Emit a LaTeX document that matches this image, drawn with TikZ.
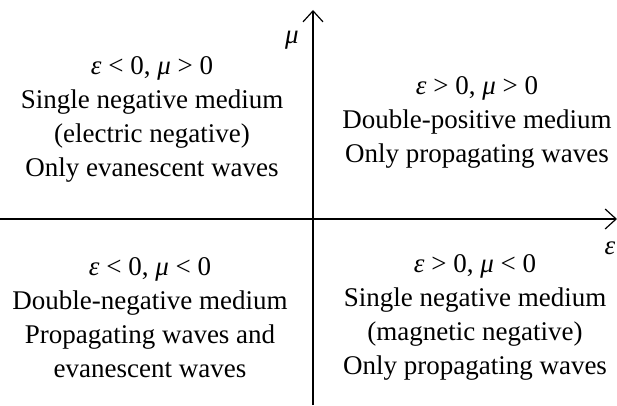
\documentclass[tikz,border=0pt]{standalone}
\usepackage{fontspec}
\setmainfont{Liberation Serif}
\usepackage{tikz}
\usetikzlibrary{arrows.meta}

\newcommand{\eps}{\textit{ε}}
\newcommand{\mup}{\textit{μ}}

\begin{document}
\begin{tikzpicture}[x=1pt, y=1pt,
  axis/.style={-{Straight Barb[length=11pt, width=20pt, line width=1.2pt]}, line width=1.2pt},
  region/.style={align=center, font=\fontsize{27}{34}\selectfont, inner sep=0pt},
  axlabel/.style={font=\fontsize{27}{30}\selectfont, inner sep=0pt}]
  \useasboundingbox (0,0) rectangle (617,405);

  % Axes
  \coordinate (xstart) at (0,186);
  \coordinate (xend) at (617,186);
  \coordinate (ystart) at (313,0);
  \coordinate (yend) at (313,395);
  \draw[axis] (xstart) -- (xend);
  \draw[axis] (ystart) -- (yend);
  \node[axlabel] (mulab) at (292,365) {\mup};
  \node[axlabel] (epslab) at (610,157) {\eps};

  % Quadrants
  \node[region] (q2) at (152,285.5) {\eps{} < 0, \mup{} > 0\\Single negative medium\\(electric negative)\\Only evanescent waves};
  \node[region] (q1) at (477,283) {\eps{} > 0, \mup{} > 0\\Double-positive medium\\Only propagating waves};
  \node[region] (q3) at (150,87.5) {\eps{} < 0, \mup{} < 0\\Double-negative medium\\Propagating waves and\\evanescent waves};
  \node[region] (q4) at (475,87.5) {\eps{} > 0, \mup{} < 0\\Single negative medium\\(magnetic negative)\\Only propagating waves};
\end{tikzpicture}
\end{document}
